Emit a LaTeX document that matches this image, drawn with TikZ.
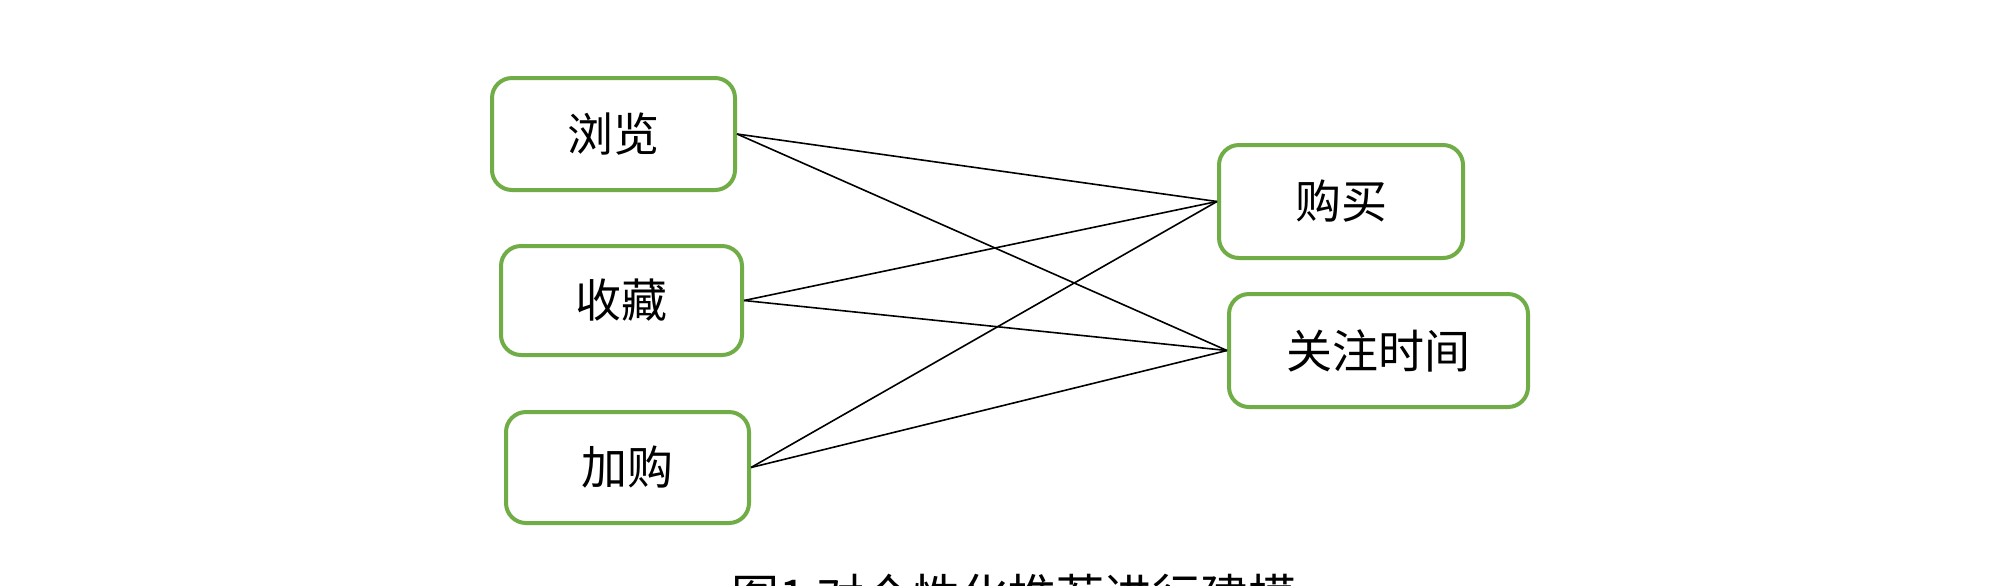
\documentclass[tikz,border=0pt]{standalone}
\usepackage{fontspec}
\newfontfamily\cjk{Noto Sans CJK SC}
\definecolor{boxgreen}{RGB}{112,173,71}
\begin{document}
\begin{tikzpicture}[x=0.5pt,y=-0.5pt,
  item/.style={draw=boxgreen,line width=2pt,rounded corners=10pt,fill=white,
    inner sep=0pt,font=\cjk\fontsize{23pt}{23pt}\selectfont},
  link/.style={draw=black,line width=0.8pt}]
\useasboundingbox[fill=white] (0,0) rectangle (2000,585);
\node[item,minimum width=121.5pt,minimum height=56pt] (browse) at (613.5,134) {浏览};
\node[item,minimum width=120.5pt,minimum height=54.5pt] (fav) at (621.5,300.5) {收藏};
\node[item,minimum width=121.5pt,minimum height=55.5pt] (cart) at (627.5,467.5) {加购};
\node[item,minimum width=122pt,minimum height=56.5pt] (buy) at (1341,201.5) {购买};
\node[item,minimum width=149.5pt,minimum height=56.5pt] (time) at (1378.5,350.5) {关注时间};
\draw[link] (browse.east) -- (buy.west);
\draw[link] (browse.east) -- (time.west);
\draw[link] (fav.east) -- (buy.west);
\draw[link] (fav.east) -- (time.west);
\draw[link] (cart.east) -- (buy.west);
\draw[link] (cart.east) -- (time.west);
\node[anchor=north,inner sep=0pt,font=\cjk\fontsize{24pt}{24pt}\selectfont] (cap) at (1014,574) {图1 对个性化推荐进行建模};
\end{tikzpicture}
\end{document}
